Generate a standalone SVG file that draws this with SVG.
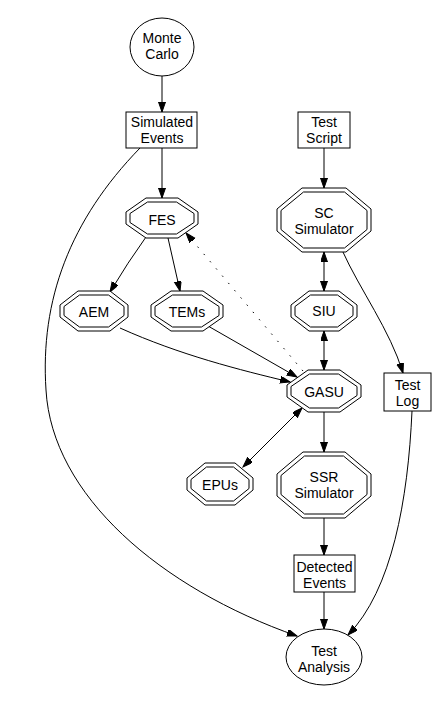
<svg xmlns="http://www.w3.org/2000/svg" width="448" height="704" viewBox="0 0 448 704">
<style>
.s{fill:none;stroke:#000;stroke-width:1}
.n{fill:#fff;stroke:#000;stroke-width:1}
.e{fill:none;stroke:#000;stroke-width:1}
.d{stroke-dasharray:1.5,8}
text{font-family:"Liberation Sans",Arial,Helvetica,sans-serif;font-size:14px;text-anchor:middle;fill:#000}
</style>
<defs>
<marker id="ah" markerUnits="userSpaceOnUse" markerWidth="11" markerHeight="8" refX="10" refY="3.5" orient="auto-start-reverse" viewBox="0 0 11 8">
<path d="M0,0 L10,3.5 L0,7 z" fill="#000" stroke="#000" stroke-width="1"/>
</marker>
</defs>
<rect width="448" height="704" fill="#fff"/>
<g id="edges">
<path class="e" d="M162,76 L162,112" marker-end="url(#ah)"/>
<path class="e" d="M162,148 L162,198" marker-end="url(#ah)"/>
<path class="e" d="M140,148 C70,220 40,300 46,390 C52,495 160,588 297,636" marker-end="url(#ah)"/>
<path class="e" d="M324,148 L324,188" marker-end="url(#ah)"/>
<path class="e" d="M324,252 L324,291" marker-start="url(#ah)" marker-end="url(#ah)"/>
<path class="e" d="M324,331 L324,370" marker-start="url(#ah)" marker-end="url(#ah)"/>
<path class="e" d="M324,412 L324,452" marker-end="url(#ah)"/>
<path class="e" d="M324,518 L324,555" marker-end="url(#ah)"/>
<path class="e" d="M324,592 L324,629" marker-end="url(#ah)"/>
<path class="e" d="M342,250 C360,290 390,330 403,373" marker-end="url(#ah)"/>
<path class="e" d="M412,411 C408,500 392,590 348,635" marker-end="url(#ah)"/>
<path class="e" d="M146,237 Q128,262 110,292" marker-end="url(#ah)"/>
<path class="e" d="M168,238 L180,291" marker-end="url(#ah)"/>
<path class="e" d="M120,328 C180,355 240,370 290,382" marker-end="url(#ah)"/>
<path class="e" d="M208,326 L297,377" marker-end="url(#ah)"/>
<path class="e d" d="M303,371 L186,233" marker-end="url(#ah)"/>
<path class="e" d="M302,408 L243,467" marker-start="url(#ah)" marker-end="url(#ah)"/>
</g>
<g id="monte_carlo">
<ellipse class="n" cx="162" cy="47" rx="32" ry="29"/>
<text x="162" y="43">Monte</text>
<text x="162" y="59">Carlo</text>
</g>
<g id="simulated_events">
<rect class="n" x="126" y="112" width="71" height="36"/>
<text x="162" y="127">Simulated</text>
<text x="162" y="143">Events</text>
</g>
<g id="test_script">
<rect class="n" x="298" y="112" width="52" height="36"/>
<text x="324" y="127">Test</text>
<text x="324" y="143">Script</text>
</g>
<g id="fes" transform="translate(162,218)">
<polygon class="n" points="-16,-20 16,-20 36,-6 36,6 16,20 -16,20 -36,6 -36,-6"/>
<polygon class="s" points="-14.5,-16 14.5,-16 32,-4.5 32,4.5 14.5,16 -14.5,16 -32,4.5 -32,-4.5"/>
<text x="0" y="7">FES</text>
</g>
<g id="sc_simulator" transform="translate(324,220)">
<polygon class="n" points="-22,-32 22,-32 47,-11 47,11 22,32 -22,32 -47,11 -47,-11"/>
<polygon class="s" points="-20.5,-28 20.5,-28 43,-9.5 43,9.5 20.5,28 -20.5,28 -43,9.5 -43,-9.5"/>
<text x="0" y="-2">SC</text>
<text x="0" y="14">Simulator</text>
</g>
<g id="aem" transform="translate(94,311)">
<polygon class="n" points="-16,-20 16,-20 34,-6 34,6 16,20 -16,20 -34,6 -34,-6"/>
<polygon class="s" points="-14.5,-16 14.5,-16 30,-4.5 30,4.5 14.5,16 -14.5,16 -30,4.5 -30,-4.5"/>
<text x="0" y="6">AEM</text>
</g>
<g id="tems" transform="translate(187,311)">
<polygon class="n" points="-16,-20 16,-20 36,-6 36,6 16,20 -16,20 -36,6 -36,-6"/>
<polygon class="s" points="-14.5,-16 14.5,-16 32,-4.5 32,4.5 14.5,16 -14.5,16 -32,4.5 -32,-4.5"/>
<text x="0" y="6">TEMs</text>
</g>
<g id="siu" transform="translate(324,311)">
<polygon class="n" points="-15,-20 15,-20 33,-6 33,6 15,20 -15,20 -33,6 -33,-6"/>
<polygon class="s" points="-13.5,-16 13.5,-16 29,-4.5 29,4.5 13.5,16 -13.5,16 -29,4.5 -29,-4.5"/>
<text x="0" y="5">SIU</text>
</g>
<g id="gasu" transform="translate(324,391)">
<polygon class="n" points="-16,-21 16,-21 37,-6 37,6 16,21 -16,21 -37,6 -37,-6"/>
<polygon class="s" points="-14.5,-17 14.5,-17 33,-4.5 33,4.5 14.5,17 -14.5,17 -33,4.5 -33,-4.5"/>
<text x="0" y="6">GASU</text>
</g>
<g id="test_log">
<rect class="n" x="384" y="373" width="47" height="38"/>
<text x="407.5" y="390">Test</text>
<text x="407.5" y="406">Log</text>
</g>
<g id="epus" transform="translate(220,484)">
<polygon class="n" points="-15,-21 15,-21 33,-6 33,6 15,21 -15,21 -33,6 -33,-6"/>
<polygon class="s" points="-13.5,-17 13.5,-17 29,-4.5 29,4.5 13.5,17 -13.5,17 -29,4.5 -29,-4.5"/>
<text x="0" y="6">EPUs</text>
</g>
<g id="ssr_simulator" transform="translate(324,485)">
<polygon class="n" points="-21,-33 21,-33 47,-11 47,11 21,33 -21,33 -47,11 -47,-11"/>
<polygon class="s" points="-19.5,-29 19.5,-29 43,-9.5 43,9.5 19.5,29 -19.5,29 -43,9.5 -43,-9.5"/>
<text x="0" y="-3">SSR</text>
<text x="0" y="13">Simulator</text>
</g>
<g id="detected_events">
<rect class="n" x="294" y="555" width="61" height="37"/>
<text x="324.5" y="572">Detected</text>
<text x="324.5" y="588">Events</text>
</g>
<g id="test_analysis">
<ellipse class="n" cx="324" cy="657" rx="38" ry="28"/>
<text x="324" y="656">Test</text>
<text x="324" y="672">Analysis</text>
</g>
</svg>
